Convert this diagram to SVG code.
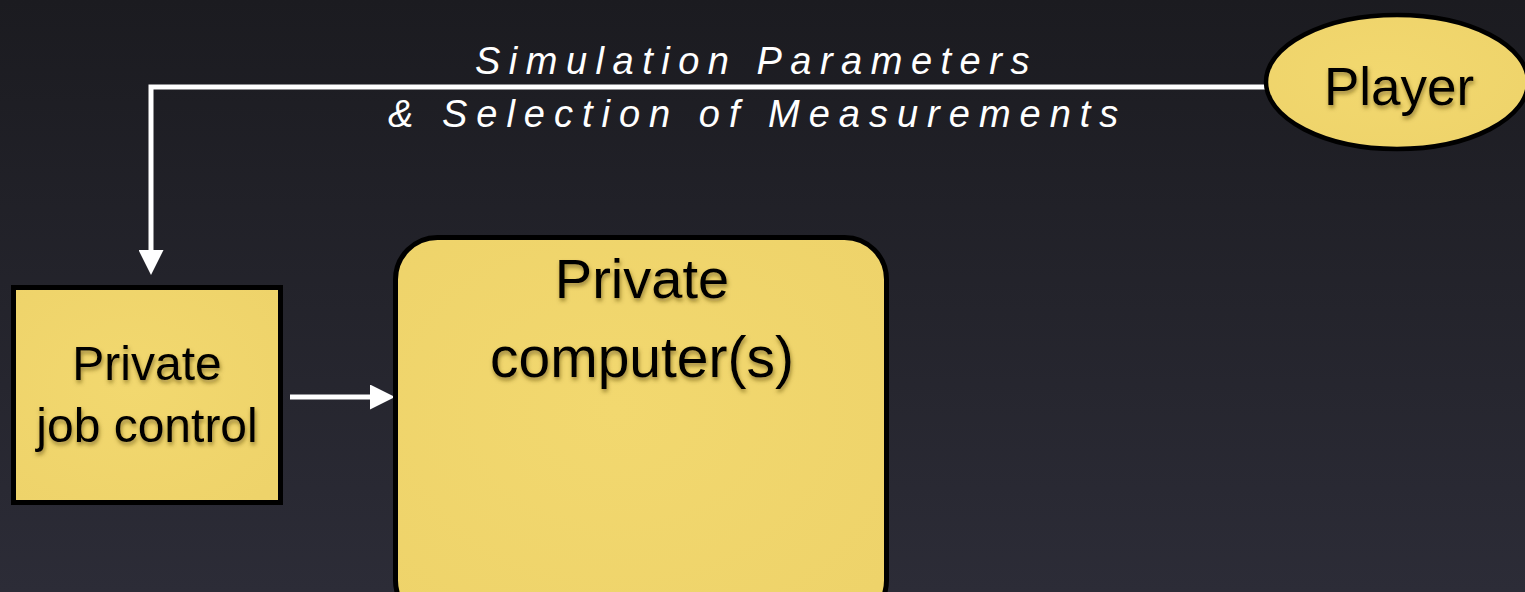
<svg xmlns="http://www.w3.org/2000/svg" width="1525" height="592" viewBox="0 0 1525 592">
  <defs>
    <linearGradient id="bg" x1="0" y1="0" x2="0" y2="1">
      <stop offset="0" stop-color="#1b1b20"/>
      <stop offset="1" stop-color="#2c2c37"/>
    </linearGradient>
    <radialGradient id="paper" cx="0.45" cy="0.45" r="0.7">
      <stop offset="0" stop-color="#f2d86f"/>
      <stop offset="1" stop-color="#eed36a"/>
    </radialGradient>
    <filter id="tshadow" x="-10%" y="-20%" width="130%" height="150%">
      <feDropShadow dx="1" dy="3" stdDeviation="2" flood-color="#5a4810" flood-opacity="0.6"/>
    </filter>
    <marker id="arrow" viewBox="0 0 10 10" refX="6" refY="5" markerWidth="5" markerHeight="5" markerUnits="strokeWidth" orient="auto">
      <path d="M0,0 L10,5 L0,10 Z" fill="#ffffff"/>
    </marker>
  </defs>
  <style>
    .node { fill: url(#paper); stroke: #000000; stroke-width: 5; }
    .lbl { font-family: "Liberation Sans", Arial, sans-serif; fill: #000000; text-anchor: middle; filter: url(#tshadow); }
    .conn { fill: none; stroke: #ffffff; stroke-width: 5; }
    .edge { font-family: "Liberation Sans", Arial, sans-serif; font-style: italic; fill: #ffffff; font-size: 38px; letter-spacing: 9px; }
  </style>
  <rect x="0" y="0" width="1525" height="592" fill="url(#bg)"/>

  <g id="connectors">
    <path class="conn" d="M1266,87 L151,87 L151,265" marker-end="url(#arrow)"/>
    <path class="conn" d="M290,397 L385,397" marker-end="url(#arrow)"/>
    <text class="edge" x="475" y="74" style="letter-spacing:8.5px">Simulation Parameters</text>
    <text class="edge" x="388" y="127">&amp; Selection of Measurements</text>
  </g>

  <g id="player">
    <ellipse class="node" cx="1397" cy="82" rx="131" ry="67" style="stroke-width:4.5"/>
    <text class="lbl" x="1399" y="105" font-size="53">Player</text>
  </g>

  <g id="job-control">
    <rect class="node" x="13.5" y="287.5" width="267" height="215"/>
    <text class="lbl" x="147" y="380" font-size="48">Private</text>
    <text class="lbl" x="147" y="442" font-size="48">job control</text>
  </g>

  <g id="computers">
    <rect class="node" x="395.5" y="237.5" width="491" height="385" rx="42" ry="42"/>
    <text class="lbl" x="642" y="298" font-size="56">Private</text>
    <text class="lbl" x="642" y="377" font-size="57">computer(s)</text>
  </g>
</svg>
